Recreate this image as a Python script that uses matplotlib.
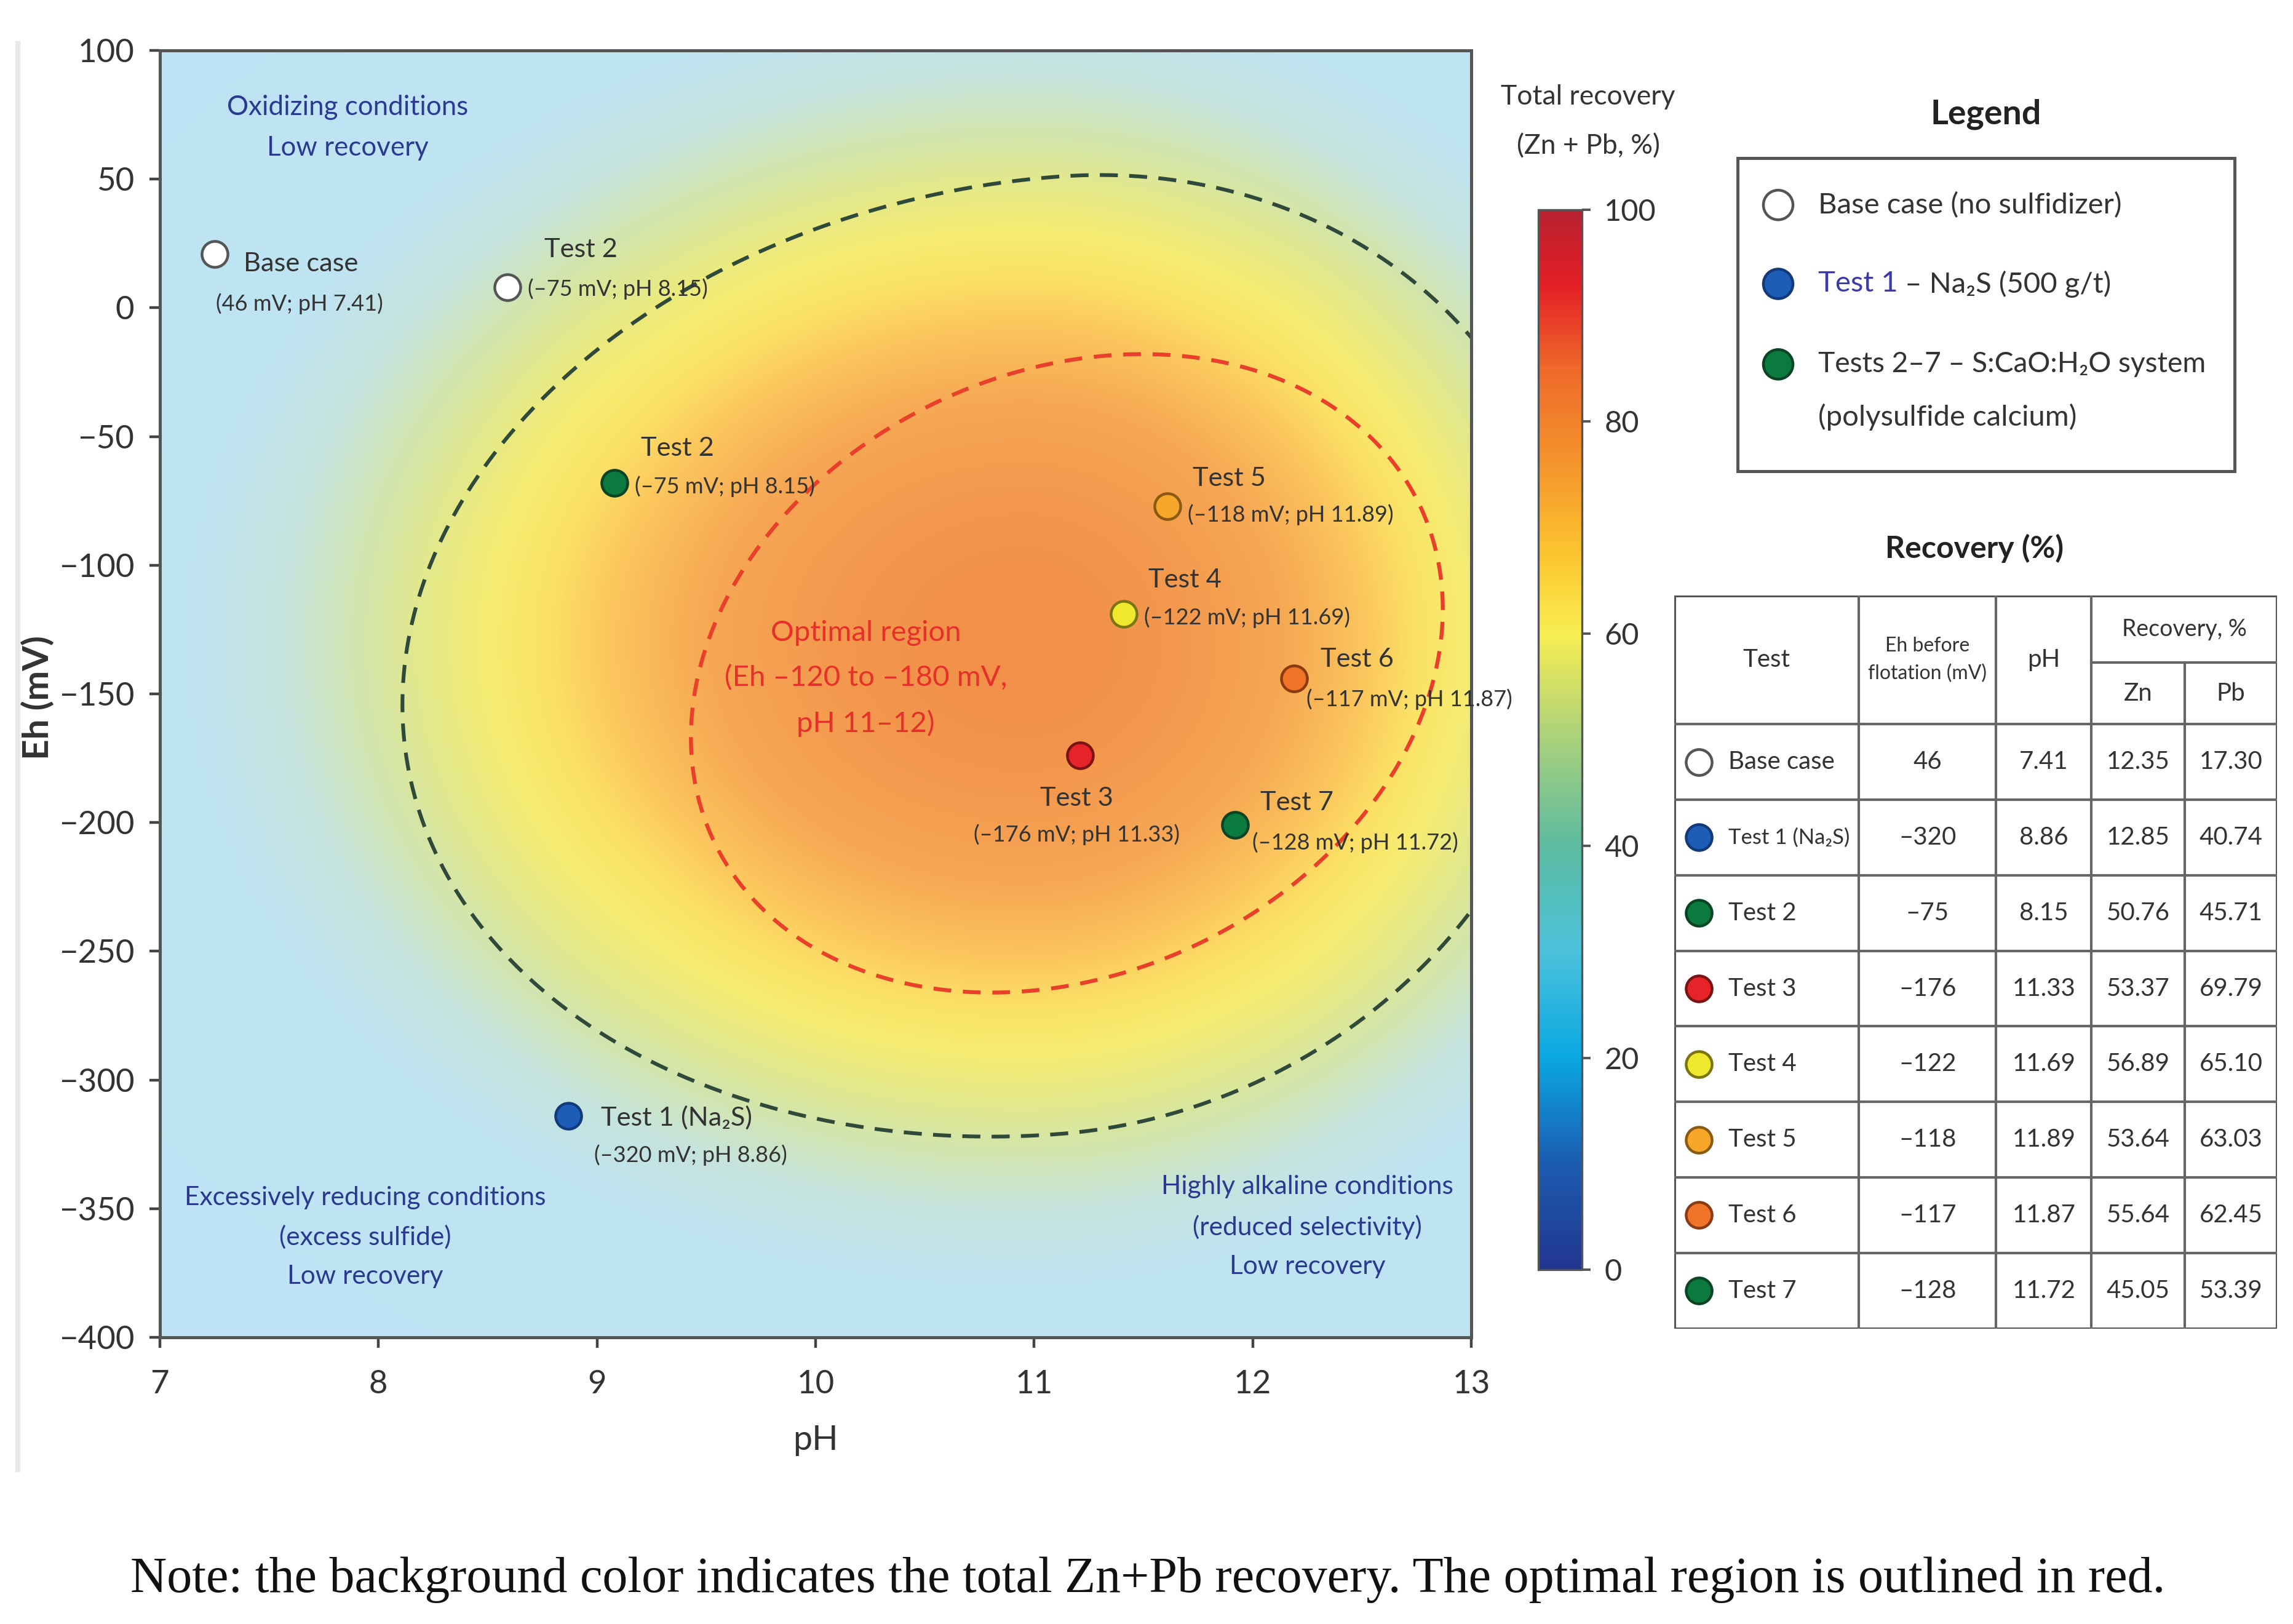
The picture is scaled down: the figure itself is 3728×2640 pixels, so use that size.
import numpy as np
import matplotlib.pyplot as plt
from matplotlib.colors import LinearSegmentedColormap, Normalize
from matplotlib.cm import ScalarMappable
from matplotlib.lines import Line2D
from matplotlib.patches import Rectangle

plt.rcParams['font.family'] = ['Lato', 'DejaVu Sans']

# test points as drawn on the map (pH, Eh in mV)
point_ph = [7.25, 8.59, 9.08, 11.61, 11.41, 12.19, 11.21, 11.92, 8.87]
point_eh = [21, 8, -68, -77, -119, -144, -174, -201, -314]
point_title = ['Base case', 'Test 2', 'Test 2', 'Test 5', 'Test 4', 'Test 6',
               'Test 3', 'Test 7', 'Test 1 (Na₂S)']
point_note = ['(46 mV; pH 7.41)', '(–75 mV; pH 8.15)', '(–75 mV; pH 8.15)',
              '(–118 mV; pH 11.89)', '(–122 mV; pH 11.69)', '(–117 mV; pH 11.87)',
              '(–176 mV; pH 11.33)', '(–128 mV; pH 11.72)', '(–320 mV; pH 8.86)']

# table values
table_tests = ['Base case', 'Test 1 (Na₂S)', 'Test 2', 'Test 3', 'Test 4',
               'Test 5', 'Test 6', 'Test 7']
table_eh = [46, -320, -75, -176, -122, -118, -117, -128]
table_ph = [7.41, 8.86, 8.15, 11.33, 11.69, 11.89, 11.87, 11.72]
table_zn = [12.35, 12.85, 50.76, 53.37, 56.89, 53.64, 55.64, 45.05]
table_pb = [17.30, 40.74, 45.71, 69.79, 65.10, 63.03, 62.45, 53.39]

cbar_ticks = [0, 20, 40, 60, 80, 100]

# colours
WHITE, GREEN, BLUE = 'white', '#0b7a3e', '#1e5db6'
RED, YELLOW, ORANGE, LORANGE = '#e52329', '#efe82c', '#f07428', '#f6a72a'
point_fill = [WHITE, WHITE, GREEN, LORANGE, YELLOW, ORANGE, RED, GREEN, BLUE]
table_fill = [WHITE, BLUE, GREEN, RED, YELLOW, LORANGE, ORANGE, GREEN]
edge_of = {WHITE: '#555555', GREEN: '#0a4424', BLUE: '#123a78', RED: '#7a1414',
           YELLOW: '#7a7512', ORANGE: '#8a3b12', LORANGE: '#8a5a12'}
NAVY = '#2b3990'
TXT = '#333333'

# label offsets in points (title dx, dy, ha), (note dx, dy, ha)
title_off = [(17, -6, 'left'), (43, 22, 'center'), (37, 20, 'center'),
             (36, 16, 'center'), (36, 20, 'center'), (37, 11, 'center'),
             (-2, -25, 'center'), (36, 13, 'center'), (19, -1, 'left')]
note_off = [(1, -29, 'left'), (12, -1, 'left'), (12, -2, 'left'),
            (12, -5, 'left'), (12, -2, 'left'), (7, -12, 'left'),
            (-2, -46, 'center'), (10, -10, 'left'), (15, -23, 'left')]

bg_cmap = LinearSegmentedColormap.from_list('bg', [
    (0.00, '#bde3f6'), (0.25, '#bfe3f1'), (0.34, '#c6e4dc'),
    (0.42, '#d3e5ab'), (0.50, '#e6e986'), (0.57, '#f7ec70'),
    (0.64, '#fbe066'), (0.72, '#fbc45c'), (0.82, '#f6a854'),
    (1.00, '#f2904a')])
bar_cmap = LinearSegmentedColormap.from_list('bar', [
    (0.00, '#22368f'), (0.10, '#1b5cb0'), (0.20, '#0aa8e2'),
    (0.30, '#4cc2dc'), (0.40, '#5cbba0'), (0.50, '#a8d07c'),
    (0.60, '#f8ee52'), (0.67, '#fcc830'), (0.75, '#f59a2c'),
    (0.85, '#ee6a2a'), (0.93, '#e41f27'), (1.00, '#b82030')])


def egg(cx, cy, a_l, a_r, k, d, n=720):
    # oval: x half-width differs left/right, y tilted by k per unit of x
    t = np.linspace(0, 2 * np.pi, n)
    c, s = np.cos(t), np.sin(t)
    a = np.where(c >= 0, a_r, a_l)
    return cx + a * c, cy + k * a * c + d * s


fig = plt.figure(figsize=(18.64, 13.2), dpi=200)
ax = fig.add_axes([0.0697, 0.1765, 0.5719, 0.7924])

# background recovery field
gx = np.linspace(7, 13, 600)
gy = np.linspace(-400, 100, 500)
X, Y = np.meshgrid(gx, gy)
sig_x = np.where(X < 10.95, 2.3, 1.9)
Z = np.exp(-0.5 * ((X - 10.95) / sig_x) ** 2 - 0.5 * ((Y + 130) / 150) ** 2)
ax.imshow(Z, extent=[7, 13, -400, 100], origin='lower', aspect='auto',
          cmap=bg_cmap, vmin=0, vmax=1, interpolation='bilinear', zorder=0)

# outlines
gx_, gy_ = egg(11.11, -135, 3.0, 2.36, 6.43, 186)
ax.plot(gx_, gy_, color='#2f4a3a', lw=2.2, dashes=(4.8, 3), zorder=2)
rx_, ry_ = egg(11.15, -142, 1.72, 1.72, 14.5, 121.5)
ax.plot(rx_, ry_, color='#e8402a', lw=2.3, dashes=(4.5, 3), zorder=2)

# points and labels
for i in range(len(point_ph)):
    ax.scatter(point_ph[i], point_eh[i], s=230, c=point_fill[i],
               edgecolors=edge_of[point_fill[i]], linewidths=1.6, zorder=4)
    dx, dy, ha = title_off[i]
    ax.annotate(point_title[i], (point_ph[i], point_eh[i]), xytext=(dx, dy),
                textcoords='offset points', ha=ha, va='center',
                fontsize=15.6, color=TXT, zorder=5)
    dx, dy, ha = note_off[i]
    ax.annotate(point_note[i], (point_ph[i], point_eh[i]), xytext=(dx, dy),
                textcoords='offset points', ha=ha, va='center',
                fontsize=13, color=TXT, zorder=5)

# region texts
ax.text(7.86, 70, 'Oxidizing conditions\nLow recovery', ha='center',
        va='center', fontsize=15.8, color=NAVY, linespacing=1.75)
ax.text(7.94, -361, 'Excessively reducing conditions\n(excess sulfide)\nLow recovery',
        ha='center', va='center', fontsize=15.3, color=NAVY, linespacing=1.8)
ax.text(12.25, -357, 'Highly alkaline conditions\n(reduced selectivity)\nLow recovery',
        ha='center', va='center', fontsize=15.3, color=NAVY, linespacing=1.8)
ax.text(10.23, -144, 'Optimal region\n(Eh –120 to –180 mV,\npH 11–12)',
        ha='center', va='center', fontsize=17, color='#e8302a', linespacing=1.85)

ax.set_xlim(7, 13)
ax.set_ylim(-400, 100)
ax.set_xticks(range(7, 14))
ax.set_yticks(range(-400, 101, 50))
ax.tick_params(axis='both', length=6, width=1.6, color='#444', labelsize=19,
               labelcolor=TXT)
ax.tick_params(axis='x', pad=13)
ax.tick_params(axis='y', pad=9)
for sp in ax.spines.values():
    sp.set_color('#555')
    sp.set_linewidth(1.8)
ax.set_xlabel('pH', fontsize=20, color=TXT)
ax.set_ylabel('Eh (mV)', fontsize=21, color=TXT, fontweight='bold')
ax.xaxis.set_label_coords(0.5, -0.068)
ax.yaxis.set_label_coords(-0.080, 0.497)

# colorbar
cax = fig.add_axes([0.6709, 0.218, 0.0191, 0.653])
cb = fig.colorbar(ScalarMappable(Normalize(0, 100), bar_cmap), cax=cax,
                  ticks=cbar_ticks)
cb.outline.set_edgecolor('#555')
cb.outline.set_linewidth(1.2)
cax.tick_params(length=5, width=1.4, color='#555', labelsize=17.5,
                labelcolor=TXT, pad=8)
fig.text(0.6926, 0.9405, 'Total recovery', ha='center', va='center',
         fontsize=16, color=TXT)
fig.text(0.6926, 0.9099, '(Zn + Pb, %)', ha='center', va='center',
         fontsize=16, color=TXT)

# legend box
lg = fig.add_axes([0.7577, 0.7099, 0.2168, 0.1928])
lg.set_xlim(0, 1)
lg.set_ylim(0, 1)
lg.set_xticks([])
lg.set_yticks([])
for sp in lg.spines.values():
    sp.set_color('#555')
    sp.set_linewidth(1.8)
fig.text(0.866, 0.9297, 'Legend', ha='center', va='center', fontsize=20,
         fontweight='bold', color='#222')
lg.scatter([0.082] * 3, [0.850, 0.598, 0.341], s=300,
           c=[WHITE, BLUE, GREEN], edgecolors=['#555555', '#123a78', '#0a4424'],
           linewidths=1.6)
lg.text(0.162, 0.850, 'Base case (no sulfidizer)', va='center', fontsize=17,
        color=TXT)
t1 = lg.text(0.162, 0.598, 'Test 1', va='center', fontsize=17, color='#3a3aa8')
lg.annotate(' – Na₂S (500 g/t)', xy=(1, 0.5), xycoords=t1, va='center',
            ha='left', fontsize=17, color=TXT)
lg.text(0.162, 0.341, 'Tests 2–7 – S:CaO:H₂O system', va='center',
        fontsize=16.6, color=TXT)
lg.text(0.162, 0.173, '(polysulfide calcium)', va='center', fontsize=17,
        color=TXT)

# recovery table
fig.text(0.861, 0.6622, 'Recovery (%)', ha='center', va='center',
         fontsize=18, fontweight='bold', color='#222')
tab = fig.add_axes([0.7302, 0.1820, 0.2628, 0.4513])
tab.set_xlim(0, 1)
tab.set_ylim(0, 1)
tab.axis('off')
col_edges = [0, 0.306, 0.534, 0.692, 0.847, 1.0]
head_h = 0.1756
sub_y = 1 - 0.0918
n_rows = len(table_tests)
row_h = (1 - head_h) / n_rows
lc = dict(color='#666', lw=1.5)
tab.add_patch(Rectangle((0, 0), 1, 1, fill=False, ec='#555', lw=1.8))
for k, x in enumerate(col_edges[1:-1], start=1):
    tab.plot([x, x], [0, sub_y if k == 4 else 1], **lc)
tab.plot([col_edges[3], 1], [sub_y, sub_y], **lc)
for i in range(n_rows):
    y = (1 - head_h) - i * row_h
    tab.plot([0, 1], [y, y], **lc)

hy = 1 - head_h / 2
tab.text((col_edges[0] + col_edges[1]) / 2, hy, 'Test', ha='center',
         va='center', fontsize=14.5, color=TXT)
tab.text((col_edges[1] + col_edges[2]) / 2, hy, 'Eh before\nflotation (mV)',
         ha='center', va='center', fontsize=11.5, color=TXT, linespacing=1.6)
tab.text((col_edges[2] + col_edges[3]) / 2, hy, 'pH', ha='center',
         va='center', fontsize=14.5, color=TXT)
tab.text((col_edges[3] + col_edges[5]) / 2, (1 + sub_y) / 2, 'Recovery, %',
         ha='center', va='center', fontsize=13.5, color=TXT)
tab.text((col_edges[3] + col_edges[4]) / 2, (sub_y + 1 - head_h) / 2, 'Zn',
         ha='center', va='center', fontsize=14.5, color=TXT)
tab.text((col_edges[4] + col_edges[5]) / 2, (sub_y + 1 - head_h) / 2, 'Pb',
         ha='center', va='center', fontsize=14.5, color=TXT)

for i in range(n_rows):
    yc = (1 - head_h) - (i + 0.5) * row_h
    tab.scatter(0.041, yc, s=230, c=table_fill[i],
                edgecolors=edge_of[table_fill[i]], linewidths=1.6, clip_on=False)
    name_size = 14.5 if len(table_tests[i]) < 10 else 12.5
    tab.text(0.09, yc, table_tests[i], va='center', fontsize=name_size, color=TXT)
    eh = str(table_eh[i]).replace('-', '–')
    cells = [eh, f'{table_ph[i]:.2f}', f'{table_zn[i]:.2f}', f'{table_pb[i]:.2f}']
    for j, val in enumerate(cells):
        xc = (col_edges[j + 1] + col_edges[j + 2]) / 2
        tab.text(xc, yc, val, ha='center', va='center', fontsize=14.5, color=TXT)

# faint frame line on the left of the picture area
fig.add_artist(Line2D([0.0077, 0.0077], [0.095, 0.973], color='#e8e8e8', lw=3))

fig.text(0.5006, 0.027, 'Note: the background color indicates the total Zn+Pb '
         'recovery. The optimal region is outlined in red.', ha='center',
         va='center', fontsize=29.5, family='Liberation Serif', color='#111')

fig.savefig('out.png', dpi=200, facecolor='white')
